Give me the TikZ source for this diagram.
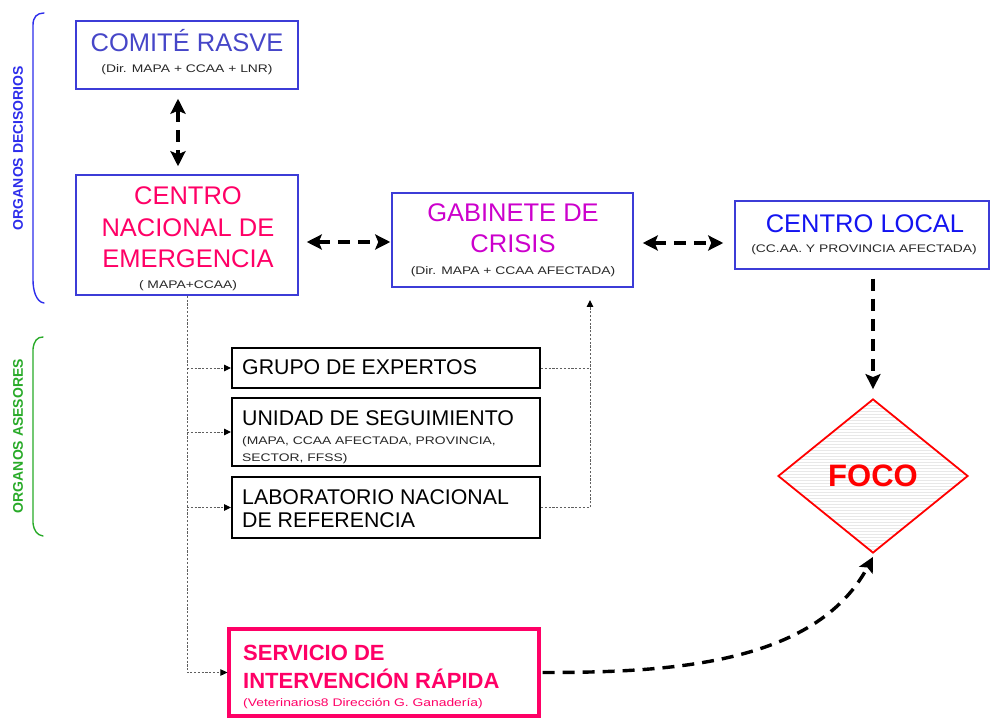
\documentclass[tikz,border=0pt]{standalone}
\usepackage{fontspec}
\setmainfont{Liberation Sans}
\newfontfamily\smallf{Liberation Sans}[FakeStretch=1.26]
\usetikzlibrary{arrows.meta,shapes.geometric,patterns,calc}
\definecolor{boxblue}{RGB}{60,60,215}
\definecolor{comiteblue}{RGB}{70,70,200}
\definecolor{localblue}{RGB}{20,20,240}
\definecolor{cnepink}{RGB}{255,0,102}
\definecolor{gabmag}{RGB}{204,0,204}
\definecolor{subgray}{RGB}{40,40,40}
\definecolor{lblblue}{RGB}{45,45,235}
\definecolor{lblgreen}{RGB}{40,170,40}
\definecolor{focored}{RGB}{255,0,0}
\definecolor{dotgray}{RGB}{95,95,95}
\begin{document}
\begin{tikzpicture}[x=1pt,y=-1pt,
  bluebox/.style={draw=boxblue,line width=1.5pt,minimum width=#1,inner sep=0pt},
  blackbox/.style={draw=black,line width=1.9pt,minimum width=308pt,inner sep=0pt},
  servbox/.style={draw=cnepink,line width=3.2pt,minimum width=310pt,minimum height=87pt,inner sep=0pt},
  title/.style={anchor=base,inner sep=0pt,font=\fontsize{25.5}{30}\selectfont},
  subt/.style={anchor=base,inner sep=0pt,text=subgray,font=\smallf\fontsize{11}{12}\selectfont},
  advt/.style={anchor=base west,inner sep=0pt,font=\fontsize{21.3}{24}\selectfont},
  sidelbl/.style={rotate=90,inner sep=0pt,font=\bfseries\fontsize{14}{16}\selectfont},
  bigtip/.style={},
  bigarrow/.style={line width=3.4pt,dash pattern=on 12pt off 8pt,
     arrows={-Stealth[length=15pt,width=15pt,inset=3pt]}},
  bigboth/.style={line width=3.4pt,dash pattern=on 12pt off 8pt,
     arrows={Stealth[length=15pt,width=15pt,inset=3pt]-Stealth[length=15pt,width=15pt,inset=3pt]}},
  dotline/.style={draw=dotgray,line width=1pt,dash pattern=on 2.2pt off 1.6pt},
  dotarrow/.style={dotline,-{Triangle[length=7pt,width=6.5pt,fill=black,color=black]}},
  bracepath/.style={line width=1.4pt,line cap=round}
]
\useasboundingbox (0,0) rectangle (993,727);

% braces and side labels
\draw[bracepath,lblblue] (44,13) .. controls (37,13) and (33,17) .. (33,25)
  -- (33,150) -- (33,280) .. controls (33,290) and (36,302) .. (44,303);
\node[sidelbl,text=lblblue] (decis) at (18,148) {ORGANOS DECISORIOS};
\draw[bracepath,lblgreen] (43,337) .. controls (37,337) and (34,341) .. (33,349)
  -- (33,523) .. controls (34,531) and (37,535) .. (43,536);
\node[sidelbl,text=lblgreen] (asesor) at (18,436) {ORGANOS ASESORES};

% boxes
\node[bluebox=222pt,minimum height=68pt] (comite) at (187,55) {};
\node[title,text=comiteblue] (comiteT) at (187,52) {COMITÉ RASVE};
\node[subt] (comiteS) at (187,73) {(Dir. MAPA + CCAA + LNR)};

\node[bluebox=222pt,minimum height=120pt] (cne) at (187,235) {};
\node[title,text=cnepink] (cneT1) at (188,205) {CENTRO};
\node[title,text=cnepink] (cneT2) at (188,236.5) {NACIONAL DE};
\node[title,text=cnepink] (cneT3) at (188,268) {EMERGENCIA};
\node[subt] (cneS) at (188,288) {( MAPA+CCAA)};

\node[bluebox=241pt,minimum height=94pt] (gab) at (512.5,240) {};
\node[title,text=gabmag] (gabT1) at (513,222) {GABINETE DE};
\node[title,text=gabmag] (gabT2) at (513,253) {CRISIS};
\node[subt] (gabS) at (513,275) {(Dir. MAPA + CCAA AFECTADA)};

\node[bluebox=254pt,minimum height=68pt] (local) at (862,235) {};
\node[title,text=localblue] (localT) at (865,233) {CENTRO LOCAL};
\node[subt] (localS) at (864,253) {(CC.AA. Y PROVINCIA AFECTADA)};

\node[blackbox,minimum height=40pt] (grupo) at (386,368) {};
\node[advt] (grupoT) at (242,374) {GRUPO DE EXPERTOS};

\node[blackbox,minimum height=68pt] (unidad) at (386,432) {};
\node[advt] (unidadT) at (242,425) {UNIDAD DE SEGUIMIENTO};
\node[subt,anchor=base west] (unidadS1) at (242,444) {(MAPA, CCAA AFECTADA, PROVINCIA,};
\node[subt,anchor=base west] (unidadS2) at (242,461) {SECTOR, FFSS)};

\node[blackbox,minimum height=61pt] (lab) at (386,507.5) {};
\node[advt] (labT1) at (242,504) {LABORATORIO NACIONAL};
\node[advt] (labT2) at (242,527) {DE REFERENCIA};

\node[servbox] (serv) at (384,672.5) {};
\node[anchor=base west,inner sep=0pt,text=cnepink,font=\bfseries\fontsize{22}{26}\selectfont] (servT1) at (243,660) {SERVICIO DE};
\node[anchor=base west,inner sep=0pt,text=cnepink,font=\bfseries\fontsize{22}{26}\selectfont] (servT2) at (243,688) {INTERVENCIÓN RÁPIDA};
\node[subt,anchor=base west,text=cnepink] (servS) at (243,706) {(Veterinarios8 Dirección G. Ganadería)};

\node[diamond,draw=focored,line width=1.8pt,minimum width=190pt,minimum height=154pt,inner sep=0pt,
  pattern=horizontal lines,pattern color=gray!18,text=focored,font=\bfseries\fontsize{31}{36}\selectfont] (foco) at (873,476) {FOCO};

% big dashed arrows
\draw[bigboth] ($(comite.south)+(-9,9)$) -- ($(cne.north)+(-9,-8)$);
\draw[bigboth] ($(cne.east)+(8,7)$) -- ($(gab.west)+(-1,2)$);
\draw[bigboth] ($(gab.east)+(9,3)$) -- ($(local.west)+(-11,8)$);
\draw[bigarrow] ($(foco.north |- local.south)+(0,9)$) -- ($(foco.north)+(0,-9)$);
\draw[bigarrow] ($(serv.east)+(2,0)$) to[out=0,in=-118,looseness=0.9] ($(foco.south)+(0,3)$);

% dotted connectors
\coordinate (gabin) at (590,300);
\draw[dotarrow] (cne.south) |- (serv.west);
\draw[dotarrow] (cne.south |- grupo.west) -- (grupo.west);
\draw[dotarrow] (cne.south |- unidad.west) -- (unidad.west);
\draw[dotarrow] (cne.south |- lab.west) -- (lab.west);
\draw[dotarrow] (lab.east) -| (gabin);
\draw[dotline] (grupo.east) -- (grupo.east -| gabin);
\end{tikzpicture}
\end{document}
